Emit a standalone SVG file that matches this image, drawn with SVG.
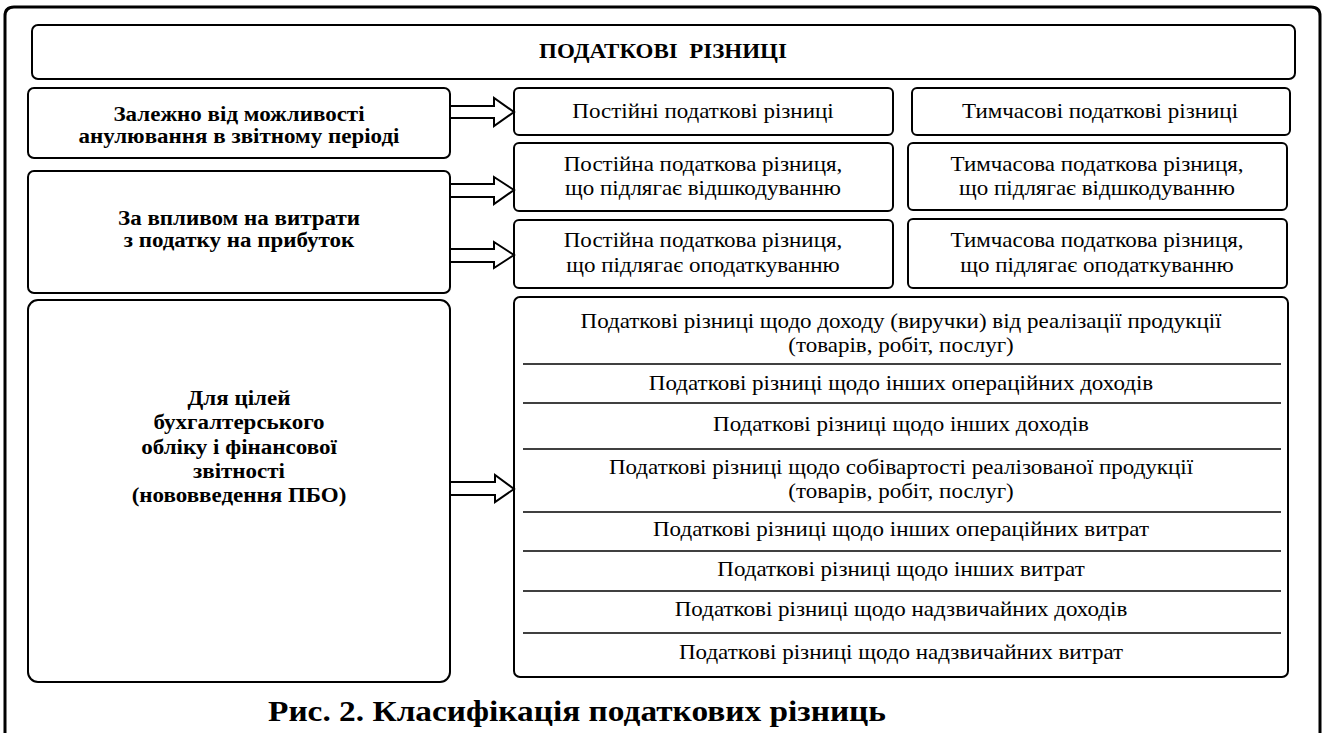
<svg xmlns="http://www.w3.org/2000/svg" width="1322" height="733" viewBox="0 0 1322 733">
<style>
.box{fill:#fff;stroke:#000;stroke-width:2}
.frame{fill:none;stroke:#000;stroke-width:3}
.div{stroke:#000;stroke-width:1.5}
.arr{fill:#fff;stroke:#000;stroke-width:2;stroke-linejoin:miter}
.b{font-family:"Liberation Serif","Times New Roman",serif;font-weight:bold;font-size:20px;text-anchor:middle;fill:#000}
.r{font-family:"Liberation Serif","Times New Roman",serif;font-size:20px;text-anchor:middle;fill:#000}
.cap{font-size:29px}
</style>
<rect width="1322" height="733" fill="#fff"/>
<path class="frame" d="M5,740 V16 Q5,7 14,7 H1311 Q1320,7 1320,16 V740"/>
<g id="title">
<rect class="box" x="32" y="25" width="1263" height="54" rx="6"/>
<g transform="translate(663 0) scale(1.15 1)"><text class="b" x="0" y="58">ПОДАТКОВІ&#160; РІЗНИЦІ</text></g>
</g>
<g id="crit1">
<rect class="box" x="28" y="88" width="422" height="70" rx="6"/>
<g transform="translate(239 0) scale(1.15 1)">
<text class="b" x="0" y="121">Залежно від можливості</text>
<text class="b" x="0" y="143">анулювання в звітному періоді</text>
</g>
</g>
<g id="crit2">
<rect class="box" x="28" y="171" width="422" height="122" rx="6"/>
<g transform="translate(239 0) scale(1.15 1)">
<text class="b" x="0" y="225">За впливом на витрати</text>
<text class="b" x="0" y="247">з податку на прибуток</text>
</g>
</g>
<g id="crit3">
<rect class="box" x="28" y="300" width="422" height="382" rx="10"/>
<g transform="translate(239 0) scale(1.15 1)">
<text class="b" x="0" y="405">Для цілей</text>
<text class="b" x="0" y="429">бухгалтерського</text>
<text class="b" x="0" y="454">обліку і фінансової</text>
<text class="b" x="0" y="478">звітності</text>
<text class="b" x="0" y="502">(нововведення ПБО)</text>
</g>
</g>
<g id="perm">
<rect class="box" x="514" y="88" width="379" height="47" rx="5"/>
<g transform="translate(703 0) scale(1.15 1)"><text class="r" x="0" y="118">Постійні податкові різниці</text></g>
</g>
<g id="temp">
<rect class="box" x="912" y="88" width="378" height="47" rx="5"/>
<g transform="translate(1100 0) scale(1.15 1)"><text class="r" x="0" y="118">Тимчасові податкові різниці</text></g>
</g>
<g id="perm-ded">
<rect class="box" x="514" y="143" width="379" height="68" rx="5"/>
<g transform="translate(703 0) scale(1.15 1)">
<text class="r" x="0" y="171">Постійна податкова різниця,</text>
<text class="r" x="0" y="195">що підлягає відшкодуванню</text>
</g>
</g>
<g id="temp-ded">
<rect class="box" x="908" y="143" width="379" height="67" rx="5"/>
<g transform="translate(1097 0) scale(1.15 1)">
<text class="r" x="0" y="171">Тимчасова податкова різниця,</text>
<text class="r" x="0" y="195">що підлягає відшкодуванню</text>
</g>
</g>
<g id="perm-tax">
<rect class="box" x="514" y="220" width="379" height="68" rx="5"/>
<g transform="translate(703 0) scale(1.15 1)">
<text class="r" x="0" y="247">Постійна податкова різниця,</text>
<text class="r" x="0" y="272">що підлягає оподаткуванню</text>
</g>
</g>
<g id="temp-tax">
<rect class="box" x="908" y="219" width="379" height="69" rx="5"/>
<g transform="translate(1097 0) scale(1.15 1)">
<text class="r" x="0" y="247">Тимчасова податкова різниця,</text>
<text class="r" x="0" y="272">що підлягає оподаткуванню</text>
</g>
</g>
<g id="list">
<rect class="box" x="514" y="297" width="774" height="380" rx="6"/>
<line class="div" x1="523" y1="364" x2="1281" y2="364"/>
<line class="div" x1="523" y1="403" x2="1281" y2="403"/>
<line class="div" x1="523" y1="449" x2="1281" y2="449"/>
<line class="div" x1="523" y1="512" x2="1281" y2="512"/>
<line class="div" x1="523" y1="551" x2="1281" y2="551"/>
<line class="div" x1="523" y1="591" x2="1281" y2="591"/>
<line class="div" x1="523" y1="633" x2="1281" y2="633"/>
<g transform="translate(901 0) scale(1.15 1)">
<text class="r" x="0" y="328">Податкові різниці щодо доходу (виручки) від реалізації продукції</text>
<text class="r" x="0" y="352">(товарів, робіт, послуг)</text>
<text class="r" x="0" y="390">Податкові різниці щодо інших операційних доходів</text>
<text class="r" x="0" y="431">Податкові різниці щодо інших доходів</text>
<text class="r" x="0" y="474">Податкові різниці щодо собівартості реалізованої продукції</text>
<text class="r" x="0" y="498">(товарів, робіт, послуг)</text>
<text class="r" x="0" y="536">Податкові різниці щодо інших операційних витрат</text>
<text class="r" x="0" y="576">Податкові різниці щодо інших витрат</text>
<text class="r" x="0" y="616">Податкові різниці щодо надзвичайних доходів</text>
<text class="r" x="0" y="659">Податкові різниці щодо надзвичайних витрат</text>
</g>
</g>
<g id="connectors">
<path class="arr" d="M451,106 H494 V98 L514,112 L494,126 V118 H451"/>
<path class="arr" d="M451,184 H494 V177 L514,190 L494,204 V197 H451"/>
<path class="arr" d="M451,249 H494 V242 L514,255 L494,268 V262 H451"/>
<path class="arr" d="M451,482 H495 V475 L514,489 L495,502 V495 H451"/>
</g>
<g id="caption">
<g transform="translate(577 0) scale(1.15 1)"><text class="b cap" x="0" y="721">Рис. 2. Класифікація податкових різниць</text></g>
</g>
</svg>
